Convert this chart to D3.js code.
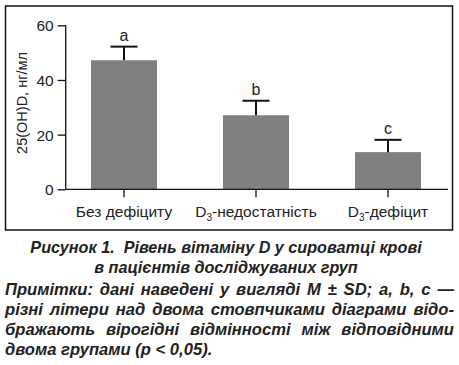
<!DOCTYPE html>
<html><head><meta charset="utf-8">
<script src="https://cdn.jsdelivr.net/npm/d3@7"></script>
<style>
html,body{margin:0;padding:0;background:#fff;}
svg{display:block;}
</style></head>
<body>
<svg id="c" width="459" height="365"></svg>
<script>
const categories = ["Без дефіциту", "D3-недостатність", "D3-дефіцит"];
const means = [47.2, 27.1, 13.6];
const sds = [5.0, 5.3, 4.5];
const letters = ["a", "b", "c"];
const yTicks = [0, 20, 40, 60];
const yLabel = "25(OH)D, нг/мл";
const captionLines = ["Рисунок 1.  Рівень вітаміну D у сироватці крові", "в пацієнтів досліджуваних груп"];
const noteLines = [
  "Примітки: дані наведені у вигляді M ± SD; a, b, c —",
  "різні літери над двома стовпчиками діаграми відо-",
  "бражають вірогідні відмінності між відповідними",
  "двома групами (р < 0,05)."
];

const svg = d3.select("#c");
const font = "'Liberation Sans', Arial, Helvetica, sans-serif";

// frame
svg.append("rect").attr("x", 5.5).attr("y", 6).attr("width", 447).attr("height", 224)
  .attr("fill", "none").attr("stroke", "#111").attr("stroke-width", 1.5);

const x = d3.scaleBand().domain(categories).range([58, 454]).paddingInner(0.5).paddingOuter(0.25);
const y = d3.scaleLinear().domain([0, 60]).range([189.3, 25.3]);

// bars
svg.selectAll("rect.bar").data(categories).enter().append("rect")
  .attr("class", "bar")
  .attr("x", d => x(d)).attr("width", x.bandwidth())
  .attr("y", (d, i) => y(means[i])).attr("height", (d, i) => y(0) - y(means[i]))
  .attr("fill", "#808080");

// error bars
const eb = svg.append("g").attr("stroke", "#111").attr("stroke-width", 2);
categories.forEach((c, i) => {
  const cx = x(c) + x.bandwidth() / 2;
  eb.append("line").attr("x1", cx).attr("x2", cx).attr("y1", y(means[i])).attr("y2", y(means[i] + sds[i]));
  eb.append("line").attr("x1", cx - 13.5).attr("x2", cx + 13.5).attr("y1", y(means[i] + sds[i])).attr("y2", y(means[i] + sds[i]));
  svg.append("text").attr("x", cx).attr("y", y(means[i] + sds[i]) - 6)
    .attr("text-anchor", "middle").attr("font-family", font).attr("font-size", 16).attr("fill", "#222")
    .text(letters[i]);
});

// y axis
const yAxis = svg.append("g").attr("transform", "translate(65.7,0)")
  .call(d3.axisLeft(y).tickValues(yTicks).tickSize(8).tickPadding(4));
yAxis.select(".domain").remove();
yAxis.append("line").attr("x1", 0).attr("x2", 0).attr("y1", y(60)).attr("y2", y(0)).attr("stroke", "#111").attr("stroke-width", 1.3);
yAxis.selectAll(".tick line").attr("stroke", "#111").attr("stroke-width", 1.3);
yAxis.selectAll(".tick text").attr("font-family", font).attr("font-size", 15.5).attr("fill", "#222").attr("dy", "0.35em");

// x axis
const xAxis = svg.append("g").attr("transform", `translate(0,${y(0)})`)
  .call(d3.axisBottom(x).tickSize(8).tickPadding(6));
xAxis.select(".domain").remove();
xAxis.append("line").attr("x1", 65.7).attr("x2", 448).attr("y1", 0).attr("y2", 0).attr("stroke", "#111").attr("stroke-width", 1.3);
xAxis.selectAll(".tick line").attr("stroke", "#111").attr("stroke-width", 1.3);
xAxis.selectAll(".tick text").attr("font-family", font).attr("font-size", 15.5).attr("fill", "#222")
  .attr("y", 27.8).attr("dy", 0)
  .each(function(d) {
    const t = d3.select(this);
    t.text(null);
    if (d.startsWith("D3")) {
      t.append("tspan").text("D");
      t.append("tspan").attr("font-size", 10).attr("dy", 4).text("3");
      t.append("tspan").attr("dy", -4).text(d.slice(2));
    } else {
      t.text(d);
    }
  });

// y label
svg.append("text").attr("transform", "translate(27,103) rotate(-90)")
  .attr("text-anchor", "middle").attr("font-family", font).attr("font-size", 14.5).attr("fill", "#222")
  .text(yLabel);

// caption
const cap = svg.append("g").attr("font-family", font).attr("font-size", 16.2)
  .attr("font-weight", "bold").attr("font-style", "italic").attr("fill", "#222");
captionLines.forEach((l, i) => {
  cap.append("text").attr("x", 226).attr("y", 253 + i * 19.5).attr("text-anchor", "middle")
    .attr("xml:space", "preserve").style("white-space", "pre").text(l);
});

// notes (justified)
const notes = svg.append("g").attr("font-family", font).attr("font-size", 16.6)
  .attr("font-weight", "bold").attr("font-style", "italic").attr("fill", "#222");
noteLines.forEach((l, i) => {
  const t = notes.append("text").attr("x", 5).attr("y", 295 + i * 20).text(l);
  if (i < noteLines.length - 1) {
    const w = t.node().getComputedTextLength();
    const spaces = (l.match(/ /g) || []).length;
    const extra = (449 - w) / spaces;
    t.attr("word-spacing", extra);
  }
});
</script>
</body></html>
